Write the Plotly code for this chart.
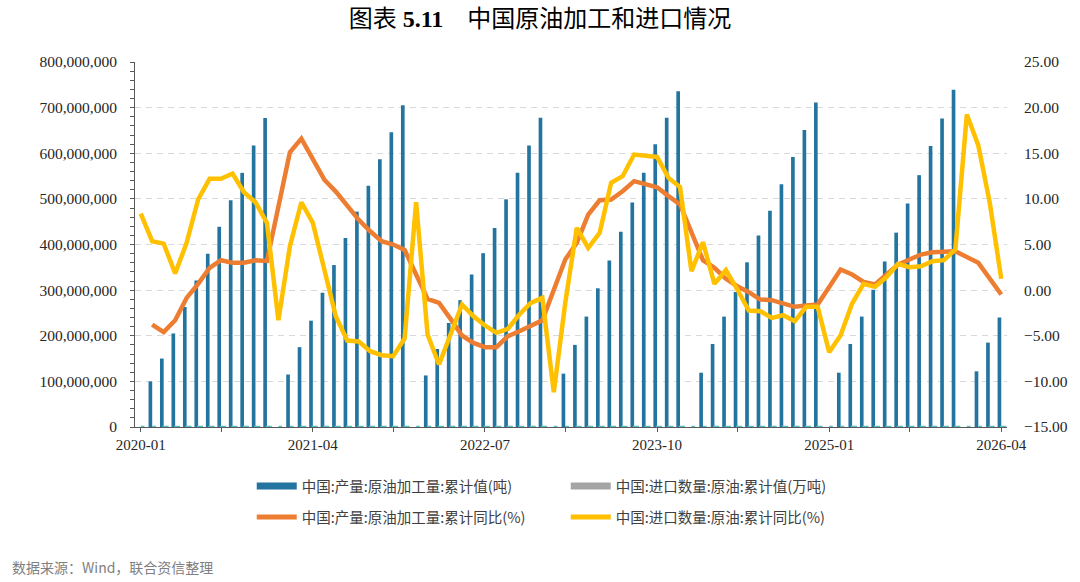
import plotly.graph_objects as go

# ---------------- data ----------------
months = [f"{y}-{m:02d}" for y in range(2020, 2027) for m in range(1, 13)][:76]  # 2020-01 .. 2026-04

# 中国:产量:原油加工量:累计值(吨)  (Jan not published -> None)
proc_cum = [
    None, 100e6, 150e6, 205e6, 263e6, 321e6, 380e6, 439e6, 497e6, 557e6, 617e6, 677e6,
    None, 115e6, 175e6, 233e6, 294e6, 355e6, 414e6, 472e6, 529e6, 587e6, 646e6, 705e6,
    None, 113e6, 171e6, 228e6, 278e6, 334e6, 381e6, 436e6, 499e6, 557e6, 617e6, 678e6,
    None, 117e6, 180e6, 242e6, 304e6, 365e6, 428e6, 492e6, 557e6, 620e6, 678e6, 736e6,
    None, 119e6, 182e6, 242e6, 296e6, 361e6, 420e6, 474e6, 532e6, 592e6, 651e6, 711e6,
    None, 119e6, 182e6, 242e6, 301e6, 363e6, 426e6, 490e6, 552e6, 616e6, 676e6, 739e6,
    None, 122e6, 185e6, 240e6,
]

# 中国:进口数量:原油:累计值(万吨)
import_cum = [
    4000, 8346, 12311, 16355, 21452, 26770, 31899, 36647, 41495, 45605, 50040, 54239,
    4700, 9160, 13993, 18030, 22119, 26055, 30179, 34428, 38528, 42043, 46144, 51298,
    4400, 8668, 12740, 16841, 21305, 25136, 28933, 33393, 37274, 41553, 45627, 50828,
    4100, 8390, 13295, 17378, 22534, 27505, 31872, 36400, 41353, 46405, 51476, 56399,
    4500, 8993, 13734, 18208, 23077, 27494, 31845, 36357, 40906, 45375, 50467, 55342,
    4200, 8385, 13469, 17616, 22220, 27497, 32063, 36968, 41565, 46305, 51426, 57000,
    4600, 9500, 14000, 18500,
]

# 中国:产量:原油加工量:累计同比(%)
proc_yoy = [
    None, -3.77, -4.60, -3.30, -0.85, 0.69, 2.44, 3.28, 2.99, 3.00, 3.28, 3.20,
    None, 15.10, 16.60, 14.30, 12.10, 10.80, 9.20, 7.70, 6.45, 5.36, 5.00, 4.40,
    None, -0.96, -1.40, -3.15, -4.97, -5.78, -6.25, -6.25, -5.05, -4.50, -3.88, -3.30,
    None, 3.35, 5.18, 8.28, 9.85, 9.93, 10.84, 11.94, 11.57, 11.28, 10.30, 9.40,
    None, 3.28, 2.44, 1.24, 0.43, -0.22, -1.03, -1.10, -1.50, -1.83, -1.69, -1.58,
    None, 2.26, 1.71, 0.90, 0.61, 1.71, 2.80, 3.35, 3.90, 4.15, 4.15, 4.26,
    None, 2.99, 1.24, -0.48,
]

# 中国:进口数量:原油:累计同比(%)
import_yoy = [
    8.39, 5.36, 5.10, 1.82, 5.18, 9.93, 12.20, 12.20, 12.78, 10.73, 9.63, 7.37,
    -3.30, 4.81, 9.63, 7.37, 2.26, -2.86, -5.52, -5.63, -6.69, -7.13, -7.24, -5.30,
    9.63, -4.87, -8.15, -4.87, -1.58, -2.86, -3.88, -4.68, -4.24, -2.67, -1.40, -0.85,
    -11.20, -1.40, 6.83, 4.63, 6.28, 11.76, 12.48, 14.86, 14.75, 14.60, 12.30, 11.30,
    2.07, 5.25, 0.69, 2.18, 0.07, -2.24, -2.31, -3.04, -2.75, -3.40, -1.83, -1.83,
    -6.80, -4.94, -1.47, 0.69, 0.36, 1.41, 2.88, 2.51, 2.62, 3.17, 3.28, 4.45,
    19.24, 15.85, 9.56, 1.24,
]

names = [
    "中国:产量:原油加工量:累计值(吨)",
    "中国:进口数量:原油:累计值(万吨)",
    "中国:产量:原油加工量:累计同比(%)",
    "中国:进口数量:原油:累计同比(%)",
]
label_months = months[0::15]
minor_months = months[7::15]

# ---------------- style ----------------
BLUE = "#23759F"
TEAL = "#5BBDBD"
GREY = "#A5A5A5"
ORANGE = "#ED7D31"
GOLD = "#FFC000"
SERIF = "Liberation Serif, Times New Roman, Noto Sans CJK SC, serif"
CJK = "Noto Sans CJK SC, sans-serif"

fig = go.Figure()
fig.add_trace(go.Bar(x=months, y=proc_cum, name=names[0], marker=dict(color=BLUE, line=dict(width=0)),
                     showlegend=False))
fig.add_trace(go.Bar(x=months, y=import_cum, name=names[1], marker=dict(color=GREY, line=dict(color=TEAL, width=2.5)),
                     showlegend=False))
fig.add_trace(go.Scatter(x=months, y=proc_yoy, name=names[2], mode="lines", yaxis="y2", connectgaps=True,
                         line=dict(color=ORANGE, width=4.5), showlegend=False))
fig.add_trace(go.Scatter(x=months, y=import_yoy, name=names[3], mode="lines", yaxis="y2", connectgaps=True,
                         line=dict(color=GOLD, width=4.5), showlegend=False))

# legend-only entries (wide swatches like the reference)
fig.add_trace(go.Scatter(x=[None], y=[None], mode="lines", name=names[0], line=dict(color=BLUE, width=7), legend="legend"))
fig.add_trace(go.Scatter(x=[None], y=[None], mode="lines", name=names[1], line=dict(color=GREY, width=7), legend="legend"))
fig.add_trace(go.Scatter(x=[None], y=[None], mode="lines", name=names[2], line=dict(color=ORANGE, width=5), legend="legend2"))
fig.add_trace(go.Scatter(x=[None], y=[None], mode="lines", name=names[3], line=dict(color=GOLD, width=5), legend="legend2"))

tickvals = sorted(label_months + minor_months, key=months.index)
ticktext = [m if m in label_months else "" for m in tickvals]

legend_common = dict(orientation="h", xref="container", yref="container", x=0.2331, xanchor="left",
                     yanchor="middle", entrywidth=259, entrywidthmode="pixels",
                     font=dict(family=CJK, size=14.5, color="#404040"), bgcolor="rgba(0,0,0,0)",
                     itemwidth=40, tracegroupgap=0)

fig.update_layout(
    width=1080, height=582, autosize=False,
    margin=dict(l=135, r=71, t=62, b=155),
    paper_bgcolor="white", plot_bgcolor="white",
    barmode="group", bargap=0.36, bargroupgap=0,
    title=dict(text="图表 <b>5.11</b>　中国原油加工和进口情况", xref="container", yref="container",
               x=0.5, xanchor="center", y=0.968, yanchor="middle",
               font=dict(family=SERIF, size=24, color="#000000")),
    xaxis=dict(type="category", categoryorder="array", categoryarray=months, range=[-0.5, 75.5],
               tickmode="array", tickvals=tickvals, ticktext=ticktext,
               showline=True, linecolor="#595959", linewidth=1, layer="below traces",
               ticks="outside", ticklen=4, tickcolor="#595959",
               showgrid=False, zeroline=False,
               tickfont=dict(family=SERIF, size=15, color="#262626")),
    yaxis=dict(range=[0, 800e6], dtick=100e6, tickformat=",d",
               showline=True, linecolor="#595959", linewidth=1,
               ticks="outside", ticklen=4, tickcolor="#595959",
               minor=dict(dtick=20e6, ticks="outside", ticklen=4, tickcolor="#595959", showgrid=False),
               showgrid=True, gridcolor="#D9D9D9", griddash="6px,5px", gridwidth=1,
               zeroline=False, ticklabelstandoff=10,
               tickfont=dict(family=SERIF, size=15.5, color="#262626")),
    yaxis2=dict(range=[-15, 25], dtick=5, tickformat=".2f", overlaying="y", side="right",
                showline=False, ticks="", showgrid=False, zeroline=False, ticklabelstandoff=16,
                tickfont=dict(family=SERIF, size=15.5, color="#262626")),
    legend=dict(y=1 - 486 / 582, **legend_common),
    legend2=dict(y=1 - 517 / 582, **legend_common),
    annotations=[dict(text="数据来源：Wind，联合资信整理", xref="paper", yref="paper",
                      x=(10 - 135) / 874, y=-(567 - 427.5) / 365, xanchor="left", yanchor="middle",
                      showarrow=False, font=dict(family=CJK, size=14, color="#808080"))],
)

fig.write_html("out.html")
